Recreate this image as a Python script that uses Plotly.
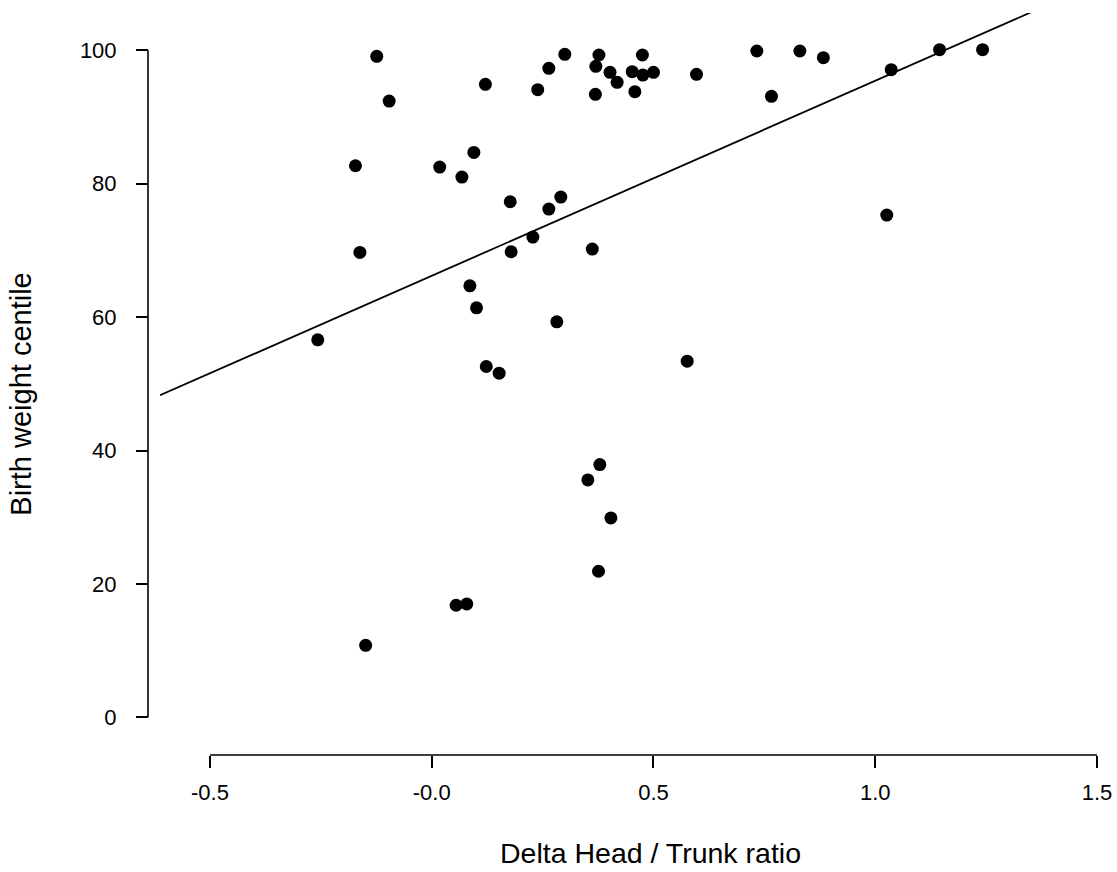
import plotly.graph_objects as go

# ---- data ----
delta_head_trunk = [
    -0.124, -0.096, -0.172, 0.018, 0.068, 0.095, 0.121, 0.177, 0.264, 0.291,
    0.239, 0.264, 0.300, 0.377, 0.370, 0.369, 0.402, 0.418, 0.452, 0.475,
    0.476, 0.500, 0.458, -0.162, 0.228, 0.179, 0.362, 0.086, 0.101, 0.282,
    0.597, 0.733, 0.830, 0.883, 0.766, 1.036, 1.145, 1.242, 1.026, 0.576,
    -0.257, 0.123, 0.152, 0.379, 0.352, 0.404, 0.376, 0.055, 0.079, -0.149,
]
birth_weight_centile = [
    99.1, 92.4, 82.7, 82.5, 81.0, 84.7, 94.9, 77.3, 76.2, 78.0,
    94.1, 97.3, 99.4, 99.3, 97.6, 93.4, 96.7, 95.2, 96.8, 99.3,
    96.3, 96.7, 93.8, 69.7, 72.0, 69.8, 70.2, 64.7, 61.4, 59.3,
    96.4, 99.9, 99.9, 98.9, 93.1, 97.1, 100.1, 100.1, 75.3, 53.4,
    56.6, 52.6, 51.6, 37.9, 35.6, 29.9, 21.9, 16.8, 17.0, 10.8,
]

# fitted regression line (intercept, slope)
fit_intercept = 66.2
fit_slope = 29.24

x_ticks = [-0.5, 0.0, 0.5, 1.0, 1.5]
x_tick_labels = ["-0.5", "-0.0", "0.5", "1.0", "1.5"]
y_ticks = [0, 20, 40, 60, 80, 100]
y_tick_labels = ["0", "20", "40", "60", "80", "100"]

x_range = [-0.6127, 1.5293]
y_range = [-5.65, 105.6]

FONT = "Liberation Sans, Arial, Helvetica, sans-serif"

fig = go.Figure()

fig.add_trace(go.Scatter(
    x=delta_head_trunk, y=birth_weight_centile, mode="markers",
    marker=dict(color="black", size=13, line=dict(width=0)),
    showlegend=False, hoverinfo="x+y",
))

line_x = list(x_range)
line_y = [fit_intercept + fit_slope * v for v in line_x]
fig.add_trace(go.Scatter(
    x=line_x, y=line_y, mode="lines",
    line=dict(color="black", width=1.8),
    showlegend=False, hoverinfo="skip",
))

fig.update_layout(
    width=1117, height=872,
    margin=dict(l=148, r=7, t=13, b=117, autoexpand=False),
    paper_bgcolor="white", plot_bgcolor="white",
    font=dict(family=FONT, color="black"),
    xaxis=dict(
        domain=[12 / 962, 1], range=x_range, anchor="y",
        tickmode="array", tickvals=x_ticks, ticktext=x_tick_labels,
        ticks="outside", ticklen=12, tickwidth=1.6, tickcolor="black",
        ticklabelstandoff=6,
        showline=False, showgrid=False, zeroline=False,
        tickfont=dict(size=22, family=FONT, color="black"),
        automargin=False,
    ),
    yaxis=dict(
        domain=[0, 1], range=y_range, anchor="free", position=0,
        tickmode="array", tickvals=y_ticks, ticktext=y_tick_labels,
        ticks="outside", ticklen=12, tickwidth=1.6, tickcolor="black",
        ticklabelstandoff=15,
        showline=False, showgrid=False, zeroline=False,
        tickfont=dict(size=22, family=FONT, color="black"),
        automargin=False,
    ),
    shapes=[
        dict(type="line", xref="x", yref="paper",
             x0=x_ticks[0], x1=x_ticks[-1], y0=0, y1=0,
             line=dict(color="black", width=1.6)),
        dict(type="line", xref="paper", yref="y",
             x0=0, x1=0, y0=y_ticks[0], y1=y_ticks[-1],
             line=dict(color="black", width=1.6)),
    ],
    annotations=[
        dict(text="Delta Head / Trunk ratio", xref="paper", yref="paper",
             x=0.522, y=-0.1320, xanchor="center", yanchor="middle",
             borderpad=0,
             showarrow=False, font=dict(size=28.5, family=FONT, color="black")),
        dict(text="Birth weight centile", xref="paper", yref="y",
             x=-0.1315, y=48.45, xanchor="center", yanchor="middle", textangle=-90,
             showarrow=False, font=dict(size=29, family=FONT, color="black")),
    ],
)

fig.write_html(
    "out.html",
    config={"displayModeBar": False},
    post_script="document.body.style.margin='0px';",
)
